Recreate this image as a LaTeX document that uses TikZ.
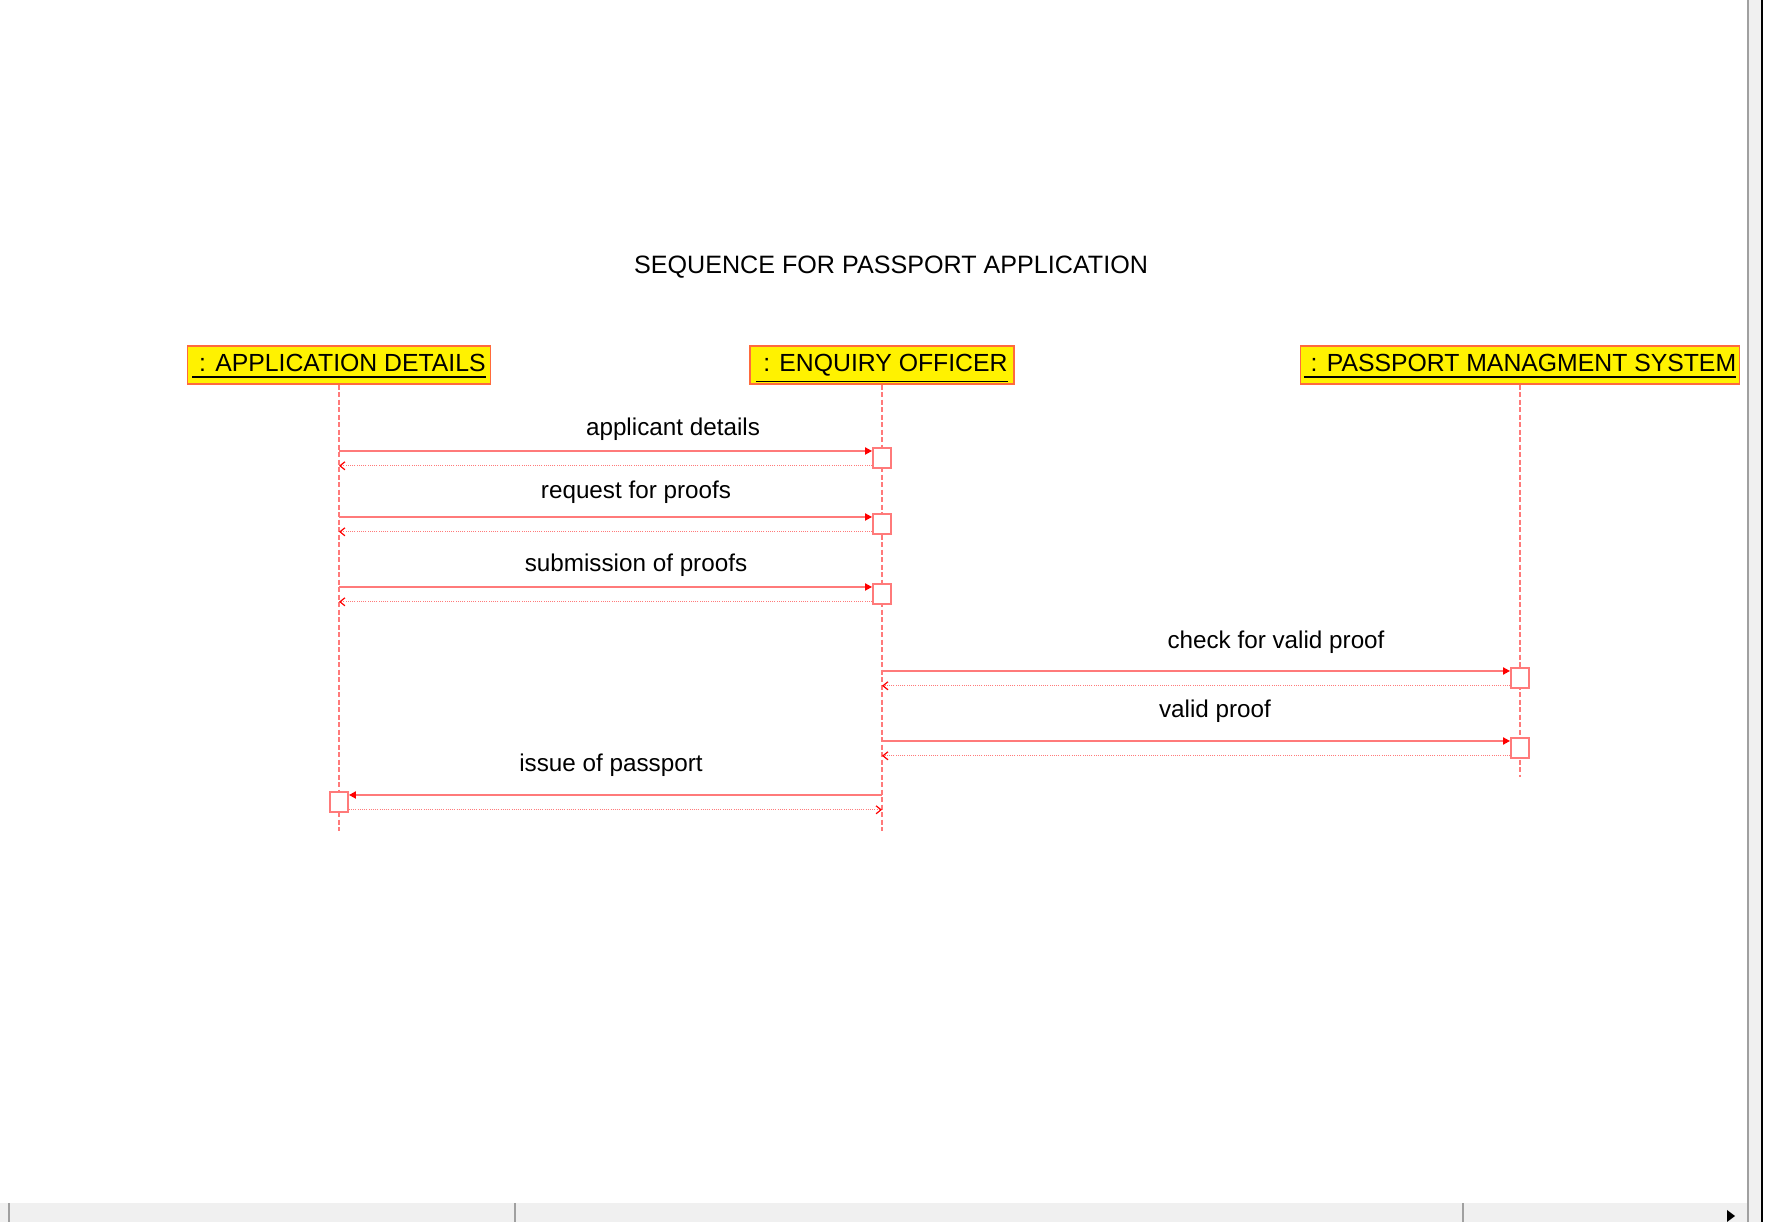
\documentclass[tikz,border=0pt]{standalone}
\usepackage{fontspec}
\setmainfont{Liberation Sans}
\usetikzlibrary{arrows.meta}
\definecolor{lifered}{HTML}{FF7A7A}
\definecolor{headline}{HTML}{FF6A3D}
\definecolor{barfill}{HTML}{F0F0F0}
\definecolor{barline}{HTML}{A0A0A0}
\begin{document}
\begin{tikzpicture}[
    head/.style={draw=headline,line width=0.015cm,fill=yellow,minimum height=0.38cm,inner sep=0pt,text height=0.26cm,text depth=0.12cm,font=\fontsize{7.05}{8}\selectfont},
    life/.style={draw=lifered,line width=0.018cm,dash pattern=on 0.05cm off 0.025cm},
    act/.style={draw=lifered,line width=0.018cm,fill=white,minimum width=0.18cm,minimum height=0.20cm,inner sep=0pt},
    msg/.style={draw=lifered,line width=0.02cm,-{Triangle[length=0.07cm,width=0.07cm,color=red]}},
    ret/.style={draw=lifered,line width=0.014cm,dash pattern=on 0.01cm off 0.012cm,-{Straight Barb[length=0.05cm,width=0.08cm,color=red,line width=0.012cm]}},
    lbl/.style={anchor=base,font=\fontsize{6.9}{8}\selectfont}]
     		\useasboundingbox (0,0) rectangle (17.86,-12.22);
     		\node[lbl,font=\fontsize{7.15}{8}\selectfont] (title) at (8.91,-2.735) {SEQUENCE FOR PASSPORT APPLICATION};
     		\node[head,minimum width=3.03cm] (appl) at (3.39,-3.65) {\underline{\ : APPLICATION DETAILS}};
     		\node[head,minimum width=2.64cm] (enq) at (8.82,-3.65) {\underline{\ : ENQUIRY OFFICER}};
     		\node[head,minimum width=4.39cm] (pms) at (15.20,-3.65) {\underline{\ : PASSPORT MANAGMENT SYSTEM}};
     		\coordinate (appl-end) at (3.39,-8.31);
     		\coordinate (enq-end) at (8.82,-8.31);
     		\coordinate (pms-end) at (15.20,-7.77);
     		\foreach \n in {appl,enq,pms}{\draw[life] (\n.south) -- (\n-end);}

     		\foreach \i/\src/\dst/\y/\side in {1/appl/enq/4.47/west,2/appl/enq/5.13/west,3/appl/enq/5.83/west,4/enq/pms/6.67/west,5/enq/pms/7.37/west,6/enq/appl/7.91/east}{
     			\node[act,anchor=north] (a\i) at (\dst |- 0,-\y) {};
     			\coordinate (s\i) at ([yshift=-0.04cm]a\i.north \side);
     			\coordinate (r\i) at ([yshift=0.03cm]a\i.south \side);
     			\draw[msg] (\src |- s\i) -- (s\i);
     			\draw[ret] (r\i) -- (\src |- r\i);
     		}
     		\foreach \t/\x/\y [count=\k] in {applicant details/6.73/4.36,request for proofs/6.36/4.99,submission of proofs/6.36/5.72,check for valid proof/12.76/6.49,valid proof/12.15/7.18,issue of passport/6.11/7.72}{\node[lbl] (lbl\k) at (\x,-\y) {\t};}

     		\fill[barfill] (0,-12.03) rectangle (17.62,-12.22);
     		\draw[barline] (0.09,-12.03) -- (0.09,-12.22);
     		\draw[barline] (5.15,-12.03) -- (5.15,-12.22);
     		\draw[barline] (14.63,-12.03) -- (14.63,-12.22);
     		\fill[black] (17.27,-12.10) -- (17.35,-12.16) -- (17.27,-12.22) -- cycle;
     		\fill[barfill] (17.49,0) rectangle (17.61,-12.22);
     		\draw[barline] (17.48,0) -- (17.48,-12.22);
     		\draw[black,line width=0.02cm] (17.62,0) -- (17.62,-12.22);
		\end{tikzpicture}
\end{document}
